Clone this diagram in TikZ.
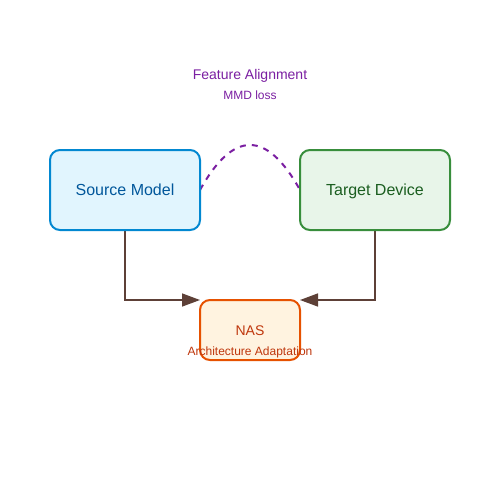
\documentclass[tikz,border=0pt]{standalone}
\usepackage{fontspec}
\setmainfont{Liberation Sans}
\usetikzlibrary{arrows.meta}
\definecolor{srcfill}{HTML}{E1F5FE}
\definecolor{srcline}{HTML}{0288D1}
\definecolor{srctext}{HTML}{01579B}
\definecolor{tgtfill}{HTML}{E8F5E9}
\definecolor{tgtline}{HTML}{388E3C}
\definecolor{tgttext}{HTML}{1B5E20}
\definecolor{nasfill}{HTML}{FFF3E0}
\definecolor{nasline}{HTML}{E65100}
\definecolor{nastext}{HTML}{BF360C}
\definecolor{purp}{HTML}{7B1FA2}
\definecolor{brown}{HTML}{5D4037}
\tikzset{
  box/.style={draw, line width=2pt, rounded corners=10pt, inner sep=0pt},
  conn/.style={draw=brown, line width=1.5pt, -{Triangle[length=18pt,width=13pt]}},
  lbl/.style={inner sep=0pt, anchor=base},
}
\begin{document}
\begin{tikzpicture}[x=1pt,y=-1pt]
\useasboundingbox (0,0) rectangle (500,500);
\fill[white] (0,0) rectangle (500,500);
% dashed curve
\coordinate (cs) at (200,190);
\coordinate (ce) at (300,190);
\draw[purp, line width=2pt, dash pattern=on 6pt off 6pt] (cs) .. controls (233.3,130) and (266.7,130) .. (ce);
% arrows
\coordinate (s1) at (125,230);
\coordinate (t1) at (375,230);
\coordinate (nl) at (200,300);
\coordinate (nr) at (300,300);
\draw[conn] (s1) |- (nl);
\draw[conn] (t1) |- (nr);
% boxes
\node[box, fill=srcfill, draw=srcline, minimum width=150pt, minimum height=80pt] (src) at (125,190) {};
\node[box, fill=tgtfill, draw=tgtline, minimum width=150pt, minimum height=80pt] (tgt) at (375,190) {};
\node[box, fill=nasfill, draw=nasline, minimum width=100pt, minimum height=60pt] (nas) at (250,330) {};
\node[lbl, text=srctext, font=\fontsize{16pt}{16pt}\selectfont] (srct) at (125,195.5) {Source Model};
\node[lbl, text=tgttext, font=\fontsize{16pt}{16pt}\selectfont] (tgtt) at (375,195.5) {Target Device};
\node[lbl, text=nastext, font=\fontsize{14pt}{14pt}\selectfont] (nast) at (250,335) {NAS};
\node[lbl, text=nastext, font=\fontsize{12pt}{12pt}\selectfont] (nass) at (250,355) {Architecture Adaptation};
\node[lbl, text=purp, font=\fontsize{14pt}{14pt}\selectfont] (fa) at (250,80) {Feature Alignment};
\node[lbl, text=purp, font=\fontsize{12pt}{12pt}\selectfont] (mmd) at (250,100) {MMD loss};
\end{tikzpicture}
\end{document}
